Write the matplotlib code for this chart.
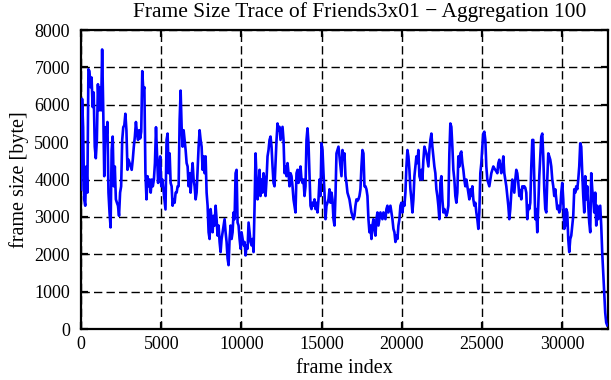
import numpy as np
import matplotlib
matplotlib.use("Agg")
import matplotlib.pyplot as plt

# frame size readings (byte), in six consecutive stretches of the trace
seg_frames = [(0, 5400), (5464, 10885), (10946, 16367),
              (16429, 21850), (21911, 27332), (27394, 32815)]

size_a = [3735, 6160, 5400, 3470, 3300, 4350, 3650, 6950, 6900, 6470, 6730, 5940,
          6330, 4880, 4570, 5060, 6550, 5850, 6470, 5850, 7480, 5940, 4090, 5400,
          5060, 5540, 3650, 3120, 2720, 4790, 5150, 3820, 4350, 3470, 3380, 3300,
          3030, 3650, 3820, 5060, 5400, 5450, 5760, 5320, 4260, 4530, 4440, 4350,
          4260, 4530, 4880, 5150, 5540, 5230, 5060, 5320, 5100, 5280, 6900, 6380,
          6470, 4170, 3470, 4090, 3820, 4000, 3650, 4000, 3820, 4000, 4440, 5400,
          4620, 3910, 4350, 4620, 3820, 4000, 3740, 3470, 3200, 5060, 5230]
size_b = [4170, 4700, 3910, 3820, 3300, 3470, 3380, 3650, 3650, 3820, 3820, 5590,
          6380, 5410, 4880, 5320, 5060, 4790, 4440, 4350, 3820, 4170, 3650, 4090,
          4440, 4000, 3820, 3470, 3650, 4260, 4880, 5320, 5060, 4880, 4260, 4620,
          4170, 4620, 3650, 3300, 2590, 2410, 3210, 2940, 2590, 3030, 2770, 3300,
          2940, 2500, 2770, 2330, 2060, 2410, 2590, 2770, 2940, 2590, 2330, 1890,
          1710, 2410, 2770, 2410, 2590, 3120, 2940, 4170, 4260, 2850, 2770, 2410,
          2150, 2590, 2410, 2240, 2330, 1970, 2240, 2150, 2850, 2590, 2330, 2240,
          2410, 2060, 3300, 4700]
size_c = [4000, 3470, 3740, 4260, 3560, 4000, 3650, 4170, 4000, 3560, 4000, 4620,
          4790, 5060, 5150, 4880, 4350, 3910, 3820, 4440, 5060, 5500, 5320, 5410,
          5060, 5230, 5410, 5060, 4170, 4350, 4090, 4440, 4170, 3820, 4170, 4090,
          3820, 3470, 3300, 3120, 4170, 4260, 3910, 4170, 4350, 4000, 3910, 4000,
          3560, 3820, 5060, 5370, 4970, 4170, 3300, 3210, 3380, 3300, 3470, 3210,
          3380, 3120, 3470, 4000, 3560, 4970, 4790, 4170, 3650, 2940, 3300, 3380,
          3470, 3740, 3380, 3650, 3470, 2940, 2770, 3560, 4700, 4790, 4880, 4620,
          4350, 4090, 4790, 4530]
size_d = [4700, 4090, 3910, 3650, 3560, 3470, 3300, 3120, 3030, 2940, 3030, 3300,
          3470, 3430, 3470, 3560, 3740, 4350, 4790, 4700, 3820, 3820, 3740, 3560,
          2940, 2590, 2770, 2410, 2770, 2940, 2680, 2500, 2940, 3120, 2770, 2940,
          3120, 3030, 2940, 3120, 3030, 2940, 3210, 3300, 3120, 3210, 3300, 3120,
          2940, 2680, 2590, 2330, 2500, 2410, 2770, 2940, 3300, 3380, 3120, 3380,
          3300, 3650, 4350, 4790, 4620, 4260, 3740, 3470, 3120, 3470, 4090, 4350,
          4620, 4440, 4790, 4090, 4000, 4260, 4000, 4530, 4880, 4790, 4700, 4530,
          4350, 4790, 5060, 5230]
size_e = [4880, 4620, 4350, 4170, 3740, 3560, 3300, 2940, 3910, 4090, 3470, 3120,
          3210, 3120, 3030, 3120, 3300, 4700, 5500, 5410, 4880, 4260, 4000, 3560,
          3380, 3650, 4620, 4350, 4700, 4750, 4440, 4260, 4000, 3820, 4000, 3820,
          3650, 3470, 3740, 3560, 3820, 3470, 3300, 3380, 3120, 2940, 2680, 3120,
          4170, 4440, 4880, 5230, 5280, 5060, 4350, 4000, 3910, 3820, 4000, 4170,
          4260, 4350, 4300, 4260, 4220, 4170, 4440, 4530, 4350, 4170, 4350, 4620,
          4170, 4000, 3820, 3560, 3300, 2940, 3210, 3650, 4000, 3820, 3650, 4000,
          4260, 4170, 3910, 3560]
size_f = [3720, 3470, 3820, 3780, 3820, 3780, 3650, 2940, 3300, 3210, 3380, 4350,
          5060, 5060, 4000, 2940, 3210, 2590, 3300, 4090, 4620, 5150, 5230, 4620,
          3740, 3210, 3120, 4000, 4700, 4620, 4530, 4350, 4000, 3820, 3560, 3740,
          3470, 3210, 3300, 3120, 3210, 3650, 3910, 3470, 2680, 2770, 3210, 3120,
          2410, 2060, 2410, 2500, 2770, 3030, 3740, 3650, 3820, 3740, 4000, 4350,
          4970, 4880, 4170, 3560, 3120, 4090, 3470, 3820, 3300, 2850, 2590, 4170,
          3740, 3470, 3120, 3650, 2770, 3300, 2940, 3120, 3300, 2770, 2040, 1500,
          970, 435, 170, 100]

segments = [size_a, size_b, size_c, size_d, size_e, size_f]

x_ticks = [0, 5000, 10000, 15000, 20000, 25000, 30000]
y_ticks = [0, 1000, 2000, 3000, 4000, 5000, 6000, 7000, 8000]

frame_idx = np.concatenate([np.linspace(a, b, len(s))
                            for (a, b), s in zip(seg_frames, segments)])
frame_size = np.concatenate([np.array(s, float) for s in segments])

plt.rcParams['font.family'] = ['Liberation Serif', 'DejaVu Serif']

fig = plt.figure(figsize=(6.11, 3.80), dpi=100)
ax = fig.add_axes([0.1326, 0.134, 0.995 - 0.1326, 0.921 - 0.134])

ax.plot(frame_idx, frame_size, color='#0000ff', lw=1.9, zorder=3)

ax.set_xlim(0, 32860)
ax.set_ylim(0, 8000)
ax.set_xticks(x_ticks)
ax.set_yticks(y_ticks)
ax.grid(True, color='black', lw=1.0, linestyle=(0, (6, 3)))
ax.set_axisbelow(True)

for sp in ax.spines.values():
    sp.set_linewidth(1.6)
ax.tick_params(direction='in', length=5, width=1.6, top=True, right=True,
               labelsize=13)
ax.tick_params(axis='y', pad=8)
ax.tick_params(axis='x', pad=5)

# gnuplot put the title a little right of the plot centre
fig.text(0.589, 0.968, 'Frame Size Trace of Friends3x01 \u2212 Aggregation 100',
         fontsize=15.5, ha='center', va='center')
ax.set_xlabel('frame index', fontsize=14.5, labelpad=4)
ax.set_ylabel('frame size [byte]', fontsize=14.5, labelpad=4)

fig.savefig('out.png', dpi=100)
